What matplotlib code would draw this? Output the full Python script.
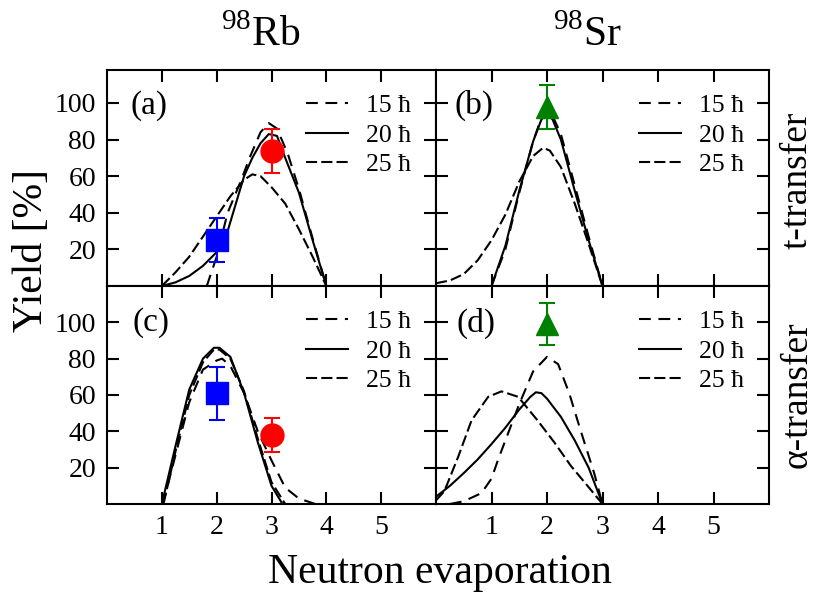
import matplotlib
matplotlib.use("Agg")
import matplotlib.pyplot as plt
from matplotlib.lines import Line2D

plt.rcParams["font.family"] = ["Liberation Serif", "DejaVu Serif"]
plt.rcParams["mathtext.fontset"] = "custom"
plt.rcParams["mathtext.rm"] = "Liberation Serif"
plt.rcParams["lines.scale_dashes"] = False

# ---------------- data ----------------
spins = ["15", "20", "25"]
legend_labels = ["15 ħ", "20 ħ", "25 ħ"]
x_ticks = [1, 2, 3, 4, 5]
y_ticks = [20, 40, 60, 80, 100]

# (a) 98Rb, t-transfer
a_x15 = [1.82, 2.0, 2.2, 2.45, 2.6, 2.8, 2.95, 3.1, 3.3, 3.5, 3.75, 4.0]
a_y15 = [0, 16, 40, 58, 70, 84, 89, 86, 72, 53, 26, 0]
a_x20 = [1.0, 1.25, 1.5, 1.75, 2.0, 2.2, 2.35, 2.5, 2.65, 2.8, 2.95, 3.1, 3.25, 3.5, 3.75, 4.0]
a_y20 = [0, 2, 5.5, 11, 18.5, 30, 45, 60, 70, 78, 83, 82, 70, 51, 25, 0]
a_x25 = [1.0, 1.25, 1.5, 1.75, 2.0, 2.25, 2.5, 2.65, 2.8, 3.0, 3.25, 3.5, 3.75, 4.0]
a_y25 = [0, 7.5, 16, 27, 38, 49, 58, 61, 60, 54, 45, 31, 16, 0]

# (b) 98Sr, t-transfer
b_x15 = [1.0, 1.25, 1.5, 1.75, 1.9, 2.0, 2.1, 2.25, 2.5, 2.75, 3.0]
b_y15 = [0, 20, 51, 79, 92, 96, 93, 83, 55, 27, 0]
b_x20 = [1.0, 1.25, 1.5, 1.75, 1.9, 2.0, 2.1, 2.25, 2.5, 2.75, 3.0]
b_y20 = [0, 22, 52, 79, 91, 94, 91, 80, 52, 25, 0]
b_x25 = [0, 0.25, 0.5, 0.75, 1.0, 1.25, 1.5, 1.75, 1.93, 2.05, 2.25, 2.5, 2.75, 3.0]
b_y25 = [1.5, 3, 6.5, 14, 25, 39, 57, 71, 75.5, 74, 65, 45, 23, 0]

# (c) 98Rb, alpha-transfer
c_x15 = [1.02, 1.25, 1.5, 1.75, 2.0, 2.1, 2.25, 2.5, 2.75, 3.0, 3.25, 3.5, 3.8]
c_y15 = [0, 27, 56, 74, 79, 80, 76, 61, 40, 24, 9, 3, 0]
c_x20 = [1.0, 1.25, 1.5, 1.75, 1.95, 2.05, 2.25, 2.5, 2.75, 3.0, 3.2]
c_y20 = [0, 32, 63, 80, 86, 86, 81, 61, 34, 10, 0]
c_x25 = [1.03, 1.25, 1.5, 1.75, 1.95, 2.05, 2.25, 2.5, 2.75, 3.0, 3.25]
c_y25 = [0, 29, 60, 78, 85, 85, 80, 62, 36, 12, 0]

# (d) 98Sr, alpha-transfer
d_x15 = [0.25, 0.5, 0.82, 1.0, 1.12, 1.25, 1.5, 1.75, 2.0, 2.2, 2.4, 2.6, 2.85, 3.0]
d_y15 = [0, 1.5, 6, 14, 24.5, 35, 55, 73, 81, 77, 61, 41, 17, 0]
d_x20 = [0, 0.25, 0.5, 0.75, 1.0, 1.25, 1.5, 1.7, 1.8, 1.9, 2.0, 2.25, 2.5, 2.75, 3.0]
d_y20 = [4, 10, 17, 24.5, 33, 42, 52, 59, 61.5, 61, 58, 48, 35, 20, 0]
d_x25 = [0, 0.15, 0.4, 0.64, 0.94, 1.18, 1.48, 1.83, 2.13, 2.43, 2.73, 3.0]
d_y25 = [2, 7, 26, 46, 59, 62, 59, 46, 34, 21, 10, 0]

# measured yields: (x, y, error)
rb_t_blue = ([2], [25], [12])
rb_t_red = ([3], [74], [12])
sr_t_green = ([2], [98], [12])
rb_a_blue = ([2], [61], [14.5])
rb_a_red = ([3], [38], [9.5])
sr_a_green = ([2], [99], [11.5])

curves = {
    "a": [(a_x15, a_y15), (a_x20, a_y20), (a_x25, a_y25)],
    "b": [(b_x15, b_y15), (b_x20, b_y20), (b_x25, b_y25)],
    "c": [(c_x15, c_y15), (c_x20, c_y20), (c_x25, c_y25)],
    "d": [(d_x15, d_y15), (d_x20, d_y20), (d_x25, d_y25)],
}
points = {
    "a": [(rb_t_blue, "s", "#0000ff"), (rb_t_red, "o", "#ff0000")],
    "b": [(sr_t_green, "^", "#008000")],
    "c": [(rb_a_blue, "s", "#0000ff"), (rb_a_red, "o", "#ff0000")],
    "d": [(sr_a_green, "^", "#008000")],
}

# ---------------- styling ----------------
line_styles = {"15": (0, (8.5, 5.5)), "20": "-", "25": (0, (8, 3))}
LW = 1.5

fig = plt.figure(figsize=(8.18, 6.0), dpi=100)
W, H = 818.0, 600.0
L, M, R = 107 / W, 436 / W, 769 / W
T, C, B = 1 - 70 / H, 1 - 286 / H, 1 - 504 / H

layout = {
    "a": ([L, C, M - L, T - C], 118, (0.07, 0.835)),
    "b": ([M, C, R - M, T - C], 118, (0.057, 0.835)),
    "c": ([L, B, M - L, C - B], 120, (0.076, 0.83)),
    "d": ([M, B, R - M, C - B], 120, (0.063, 0.83)),
}

for key, (rect, ytop, lab_pos) in layout.items():
    ax = fig.add_axes(rect)
    for spin, (xs, ys) in zip(spins, curves[key]):
        ax.plot(xs, ys, color="black", lw=LW, linestyle=line_styles[spin])
    for (px, py, pe), mk, col in points[key]:
        ax.errorbar(px, py, yerr=pe, fmt=mk, color=col, ms=16.5, mec=col,
                    elinewidth=1.5, capsize=6, capthick=1.5, zorder=4)
    ax.set_xlim(0, 6)
    ax.set_ylim(0, ytop)
    ax.set_xticks(x_ticks)
    ax.set_yticks(y_ticks)
    ax.tick_params(direction="in", length=8.5, width=1.5, top=True, right=True,
                   labelsize=20, pad=8)
    for sp in ax.spines.values():
        sp.set_linewidth(1.5)
    if key in ("a", "b"):
        ax.tick_params(labelbottom=False)
    if key in ("b", "d"):
        ax.tick_params(labelleft=False)
    ax.text(lab_pos[0], lab_pos[1], f"({key})", transform=ax.transAxes,
            fontsize=24, va="center", ha="left")
    handles = [Line2D([], [], color="black", lw=LW, linestyle=line_styles[s])
               for s in spins]
    ax.legend(handles, legend_labels, loc="upper right", frameon=False,
              fontsize=18.5, handlelength=1.65, handletextpad=0.7,
              labelspacing=0.24, borderaxespad=0.55, borderpad=0.4)

fig.text(261 / W, 1 - 35 / H, "$^{98}$Rb", fontsize=30, ha="center", va="center")
fig.text(588 / W, 1 - 35 / H, "$^{98}$Sr", fontsize=30, ha="center", va="center")
fig.text(32 / W, 1 - 250 / H, "Yield [%]", fontsize=30, rotation=90,
         ha="center", va="center")
fig.text(440 / W, 1 - 573 / H, "Neutron evaporation", fontsize=30,
         ha="center", va="center")
fig.text(797 / W, 1 - 180 / H, "t-transfer", fontsize=27, rotation=90,
         ha="center", va="center")
fig.text(797 / W, 1 - 395 / H, "α-transfer", fontsize=27, rotation=90,
         ha="center", va="center")

fig.savefig("out.png", dpi=100)
